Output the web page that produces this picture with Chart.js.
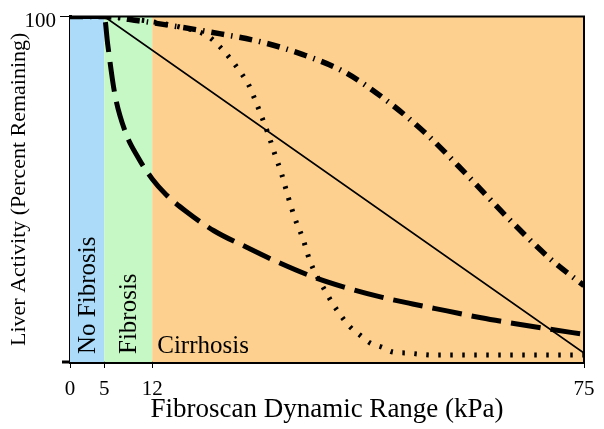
<!DOCTYPE html>
<html>
<head>
<meta charset="utf-8">
<script src="https://cdn.jsdelivr.net/npm/chart.js@4.4.1/dist/chart.umd.min.js"></script>
<style>
    html, body { margin: 0; padding: 0; background: #fff; }
</style>
</head>
<body>
<canvas id="bieuDo" width="604" height="429"></canvas>
<script>
// Truc va nhan
const xTicks = [0, 5, 12, 75];
const yTicks = [100];

// Vung xo hoa
const vungRanh = [0, 5, 12, 75];
const vungTen = ['No Fibrosis', 'Fibrosis', 'Cirrhosis'];
const vungMau = ['#abdbf9', '#c6f8c6', '#fdd08f'];

// Duong thang (solid)
const thangX = [0, 5, 75];
const thangY = [100, 100, 2.6];

// Duong gach dai (dashed)
const gachX = [0, 5, 5.5, 6.5, 8, 10, 12, 14, 17, 21, 26, 30, 35, 40, 45, 50, 55, 60, 65, 70, 75];
const gachY = [100, 100, 92, 78, 67, 59, 53, 48.5, 43.5, 38, 33, 29.2, 25, 21.7, 19, 16.8, 14.8, 12.8, 11.1, 9.5, 8];

// Duong cham (dotted)
const chamX = [0, 5, 8, 12, 16, 20, 21.5, 22.6, 23.8, 25.1, 26, 27, 27.7, 28.9, 29.9, 30.9, 31.8, 32.8, 34, 35, 37.2, 39, 40.9, 42.3, 43.8, 45.5, 47.1, 49.2, 53, 75];
const chamY = [100, 100, 99.5, 98.5, 97, 94.5, 92, 89.7, 86.8, 83.3, 80.5, 75.9, 72.4, 66.1, 60.1, 54.3, 48, 41.7, 35.6, 29.3, 20.7, 14.9, 10.1, 7.8, 5.5, 4.3, 2.9, 2.6, 2, 2];

// Duong gach cham (dash-dot)
const gachChamX = [0, 5, 10, 16, 22, 28, 34, 40, 46, 52, 58, 64, 70, 75];
const gachChamY = [100, 100, 98.8, 97, 95, 92.6, 89, 84, 76, 66, 54, 41.5, 30, 22.1];

const phongChu = '"Liberation Serif", "Times New Roman", serif';

function ghepDiem(xs, ys) {
    return xs.map((x, i) => ({ x: x, y: ys[i] }));
}

// to mau nen va ghi ten vung
const nenVung = {
    id: 'nenVung',
    beforeDatasetsDraw(chart) {
        const { ctx, chartArea, scales } = chart;
        const x = scales.x;
        ctx.save();
        for (let i = 0; i < vungTen.length; i++) {
            const x0 = x.getPixelForValue(vungRanh[i]);
            const x1 = x.getPixelForValue(vungRanh[i + 1]);
            ctx.fillStyle = vungMau[i];
            ctx.fillRect(x0, chartArea.top, x1 - x0, chartArea.bottom - chartArea.top);
        }

        ctx.fillStyle = '#000';
        ctx.font = '25px ' + phongChu;
        ctx.textBaseline = 'middle';
        ctx.textAlign = 'left';
        // hai nhan dung
        for (let i = 0; i < 2; i++) {
            const xc = (x.getPixelForValue(vungRanh[i]) + x.getPixelForValue(vungRanh[i + 1])) / 2;
            ctx.save();
            ctx.translate(xc + 1, chartArea.bottom - 8);
            ctx.rotate(-Math.PI / 2);
            ctx.fillText(vungTen[i], 0, 0);
            ctx.restore();
        }
        ctx.textBaseline = 'alphabetic';
        ctx.fillText(vungTen[2], x.getPixelForValue(vungRanh[2]) + 5, chartArea.bottom - 9);
        ctx.restore();
    },
    afterDraw(chart) {
        const { ctx, chartArea } = chart;
        ctx.save();
        ctx.strokeStyle = '#000';
        ctx.lineWidth = 2;
        ctx.beginPath();
        ctx.moveTo(chartArea.left, chartArea.top);
        ctx.lineTo(chartArea.right, chartArea.top);
        ctx.lineTo(chartArea.right, chartArea.bottom);
        ctx.stroke();
        // truc hoanh keo dai sang trai
        ctx.lineWidth = 3;
        ctx.beginPath();
        ctx.moveTo(chartArea.left - 8, chartArea.bottom);
        ctx.lineTo(chartArea.left, chartArea.bottom);
        ctx.stroke();
        ctx.restore();
    }
};

function veBieuDo() {
    const ctx = document.getElementById('bieuDo').getContext('2d');
    new Chart(ctx, {
        type: 'line',
        data: {
            datasets: [
                {
                    data: ghepDiem(thangX, thangY),
                    borderColor: '#000',
                    borderWidth: 1.8
                },
                {
                    data: ghepDiem(chamX, chamY),
                    borderColor: '#000',
                    borderWidth: 5,
                    borderDash: [2.5, 9.5],
                    cubicInterpolationMode: 'monotone'
                },
                {
                    data: ghepDiem(gachChamX, gachChamY),
                    borderColor: '#000',
                    borderWidth: 5.5,
                    borderDash: [13, 7, 1.5, 7],
                    cubicInterpolationMode: 'monotone'
                },
                {
                    data: ghepDiem(gachX, gachY),
                    borderColor: '#000',
                    borderWidth: 5,
                    borderDash: [30, 10],
                    cubicInterpolationMode: 'monotone'
                }
            ]
        },
        options: {
            responsive: false,
            animation: false,
            elements: { point: { radius: 0 }, line: { borderCapStyle: 'butt' } },
            layout: { padding: { top: 14, right: 20, left: 0, bottom: 0 } },
            plugins: { legend: { display: false }, tooltip: { enabled: false } },
            scales: {
                x: {
                    type: 'linear',
                    min: 0,
                    max: 75,
                    afterBuildTicks: s => { s.ticks = xTicks.map(v => ({ value: v })); },
                    afterFit: s => { s.height = 67; },
                    ticks: {
                        color: '#000',
                        font: { family: phongChu, size: 21 },
                        padding: 9,
                        maxRotation: 0,
                        autoSkip: false
                    },
                    grid: { drawOnChartArea: false, tickLength: 6, color: '#000', lineWidth: 1 },
                    border: { color: '#000', width: 3 },
                    title: {
                        display: true,
                        text: 'Fibroscan Dynamic Range (kPa)',
                        color: '#000',
                        font: { family: phongChu, size: 27 },
                        padding: { top: 0, bottom: 3 }
                    }
                },
                y: {
                    min: 0,
                    max: 100,
                    afterBuildTicks: s => { s.ticks = yTicks.map(v => ({ value: v })); },
                    afterFit: s => { s.width = 70; },
                    ticks: {
                        color: '#000',
                        font: { family: phongChu, size: 21 },
                        padding: 4,
                        labelOffset: 5
                    },
                    grid: { drawOnChartArea: false, tickLength: 10, color: '#000', lineWidth: 1 },
                    border: { color: '#000', width: 3 },
                    title: {
                        display: true,
                        text: 'Liver Activity (Percent Remaining)',
                        color: '#000',
                        font: { family: phongChu, size: 22 },
                        padding: 6
                    }
                }
            }
        },
        plugins: [nenVung]
    });
}

document.addEventListener('DOMContentLoaded', () => {
    veBieuDo();
});
</script>
</body>
</html>
